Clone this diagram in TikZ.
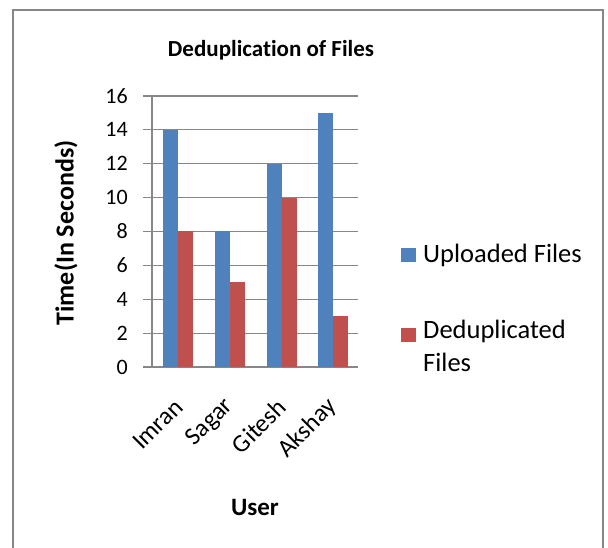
\documentclass[tikz,border=0pt]{standalone}
\usepackage{fontspec}
\setmainfont{Carlito}[Ligatures=NoCommon]
\definecolor{upblue}{HTML}{4F81BD}
\definecolor{dedred}{HTML}{C0504D}
\definecolor{gridgray}{HTML}{878787}
\tikzset{
  ticklabel/.style={anchor=east, inner sep=0pt, font=\fontsize{22}{26}\selectfont},
  userlabel/.style={anchor=east, rotate=45, inner sep=0pt, font=\fontsize{25}{30}\selectfont},
  axistitle/.style={inner sep=0pt, font=\fontsize{25}{30}\selectfont\bfseries},
  legendtext/.style={anchor=west, inner sep=0pt, align=left, font=\fontsize{26.5}{33}\selectfont},
}
\begin{document}
\begin{tikzpicture}[x=1pt, y=-1pt]
	\useasboundingbox (0,0) rectangle (608,548);
	\fill[white] (0,0) rectangle (608,548);
	\draw[gridgray, line width=1.5pt] (13,548) -- (13,10) -- (603,10) -- (603,548);
	\node[axistitle, font=\fontsize{23}{28}\selectfont\bfseries] (title) at (271,50) {Deduplication of Files};
	\begin{scope}[shift={(0,367)}, y=16.94pt]
		\foreach \v in {0,2,...,16}{
			\draw[gridgray, line width=1.2pt] (143,\v) -- (358,\v);
			\node[ticklabel] (tick\v) at (128,\v) {\v};
		}
		\draw[gridgray, line width=1.2pt] (152,0) -- (152,16);
		\foreach \x/\u/\d in {163/14/8,215/8/5,267/12/10,318/15/3}{
			\fill[upblue] (\x,0) rectangle ++(15,\u);
			\fill[dedred] (\x+15,0) rectangle ++(14.5,\d);
		}
	\end{scope}
	\foreach \i/\j in {178/Imran,229/Sagar,281/Gitesh,332/Akshay}{
		\node[userlabel] (\j) at (\i+1,403) {\j};
	}
	\node[axistitle, font=\fontsize{26}{30}\selectfont\bfseries, rotate=90] (ylab) at (66,233) {Time(In Seconds)};
	\node[axistitle] (xlab) at (255,507) {User};
	\fill[upblue] (401,248) rectangle (416,262);
	\node[legendtext] (uploaded) at (423,255) {Uploaded Files};
	\fill[dedred] (401,328) rectangle (416,342);
	\node[legendtext, anchor=north west] (dedup) at (423,320) {Deduplicated\\Files};
\end{tikzpicture}
\end{document}
